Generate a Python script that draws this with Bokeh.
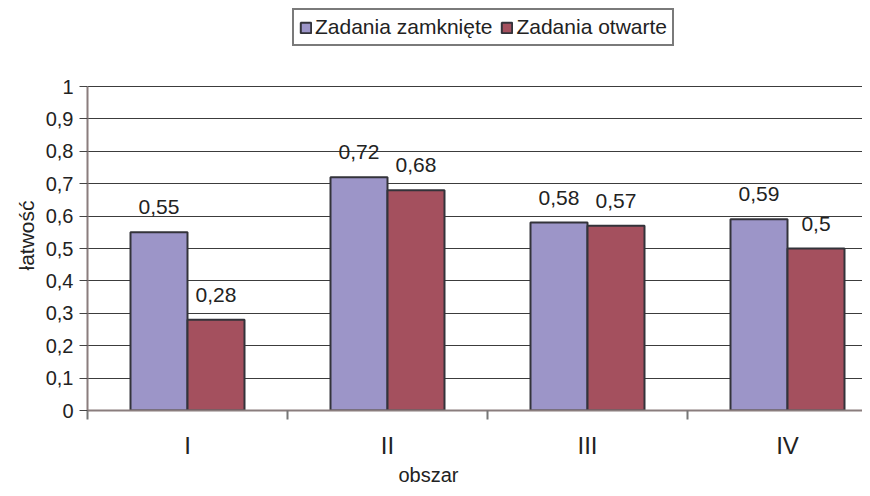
from bokeh.plotting import figure
from bokeh.models import (ColumnDataSource, Range1d, FixedTicker, Legend, LegendItem, Title)
from bokeh.core.properties import value
from bokeh.embed import file_html
from bokeh.resources import INLINE

# ---- data ----
categories = ["I", "II", "III", "IV"]
closed_tasks = [0.55, 0.72, 0.58, 0.59]   # Zadania zamknięte
open_tasks = [0.28, 0.68, 0.57, 0.50]     # Zadania otwarte
series_names = ["Zadania zamknięte", "Zadania otwarte"]
y_ticks = [0, 0.1, 0.2, 0.3, 0.4, 0.5, 0.6, 0.7, 0.8, 0.9, 1.0]
y_tick_labels = ["0", "0,1", "0,2", "0,3", "0,4", "0,5", "0,6", "0,7", "0,8", "0,9", "1"]
x_title = "obszar"
y_title = "łatwość"

FONT = "Liberation Sans"
PURPLE = "#9C95C8"
MAROON = "#A4505E"
EDGE = "#33333a"
TXT = "#222222"


def fmt(v):
    return ("%g" % v).replace(".", ",")


centers = [i + 0.5 for i in range(len(categories))]
bw = 0.285
src1 = ColumnDataSource(dict(x=[c - bw / 2 for c in centers], top=closed_tasks,
                             lab=[fmt(v) for v in closed_tasks]))
src2 = ColumnDataSource(dict(x=[c + bw / 2 for c in centers], top=open_tasks,
                             lab=[fmt(v) for v in open_tasks]))

# frame spans the legend area too; the value axis itself is bounded to 0..1
p = figure(width=862, height=486, output_backend="svg", toolbar_location=None,
           x_range=Range1d(0, 3.875), y_range=Range1d(0, 1.25))
p.min_border_left = 87
p.min_border_right = 0
p.min_border_top = 5
p.min_border_bottom = 76
p.outline_line_color = None
p.background_fill_color = "white"
p.border_fill_color = "white"

r1 = p.vbar(x="x", top="top", width=bw, source=src1, fill_color=PURPLE,
            line_color=EDGE, line_width=2)
r2 = p.vbar(x="x", top="top", width=bw, source=src2, fill_color=MAROON,
            line_color=EDGE, line_width=2)

for s in (src1, src2):
    p.text(x="x", y="top", text="lab", source=s, text_align="center",
           text_baseline="middle", y_offset=-25, text_font_size="21px",
           text_font=value(FONT), text_color=TXT)

# x axis
xa = p.xaxis[0]
xa.ticker = FixedTicker(ticks=centers, minor_ticks=list(range(len(categories) + 1)))
xa.major_label_overrides = {c: n for c, n in zip(centers, categories)}
xa.major_tick_line_color = None
xa.major_tick_out = 0
xa.major_tick_in = 0
xa.minor_tick_line_color = "#777777"
xa.minor_tick_line_width = 2
xa.minor_tick_out = 9
xa.minor_tick_in = 0
xa.major_label_standoff = 12
xa.major_label_text_font = FONT
xa.major_label_text_font_size = "24px"
xa.major_label_text_color = TXT
xa.axis_line_color = "#8a7d7d"
xa.axis_line_width = 2

# y axis
ya = p.yaxis[0]
ya.bounds = (0, 1)
ya.ticker = FixedTicker(ticks=y_ticks)
ya.major_label_overrides = {t: l for t, l in zip(y_ticks, y_tick_labels)}
ya.major_tick_out = 8
ya.major_tick_in = 0
ya.major_tick_line_color = "#444444"
ya.minor_tick_line_color = None
ya.major_label_standoff = 6
ya.major_label_text_font = FONT
ya.major_label_text_font_size = "20px"
ya.major_label_text_color = TXT
ya.axis_line_color = "#8a7d7d"
ya.axis_line_width = 2

p.xgrid.grid_line_color = None
p.ygrid.ticker = FixedTicker(ticks=y_ticks)
p.ygrid.grid_line_color = "#3c3c3c"
p.ygrid.grid_line_width = 1

# axis titles, placed as in the reference
p.add_layout(Title(text=x_title, align="left", offset=311, text_font=FONT,
                   text_font_size="20px", text_font_style="normal",
                   text_color=TXT, standoff=1), "below")
p.add_layout(Title(text=y_title, align="left", offset=140, text_font=FONT,
                   text_font_size="21px", text_font_style="normal",
                   text_color=TXT, standoff=9), "left")

legend = Legend(items=[LegendItem(label=series_names[0], renderers=[r1]),
                       LegendItem(label=series_names[1], renderers=[r2])],
                orientation="horizontal", location=(205, 364))
legend.label_text_font = FONT
legend.label_text_font_size = "21px"
legend.label_text_color = TXT
legend.glyph_width = 13
legend.glyph_height = 13
legend.label_standoff = 3
legend.spacing = 8
legend.padding = 5
legend.margin = 0
legend.border_line_color = "#7a7a7a"
legend.border_line_width = 2
legend.border_line_alpha = 1.0
legend.background_fill_color = "white"
legend.background_fill_alpha = 1.0
p.add_layout(legend, "center")

open("out.html", "w").write(file_html(p, INLINE))
